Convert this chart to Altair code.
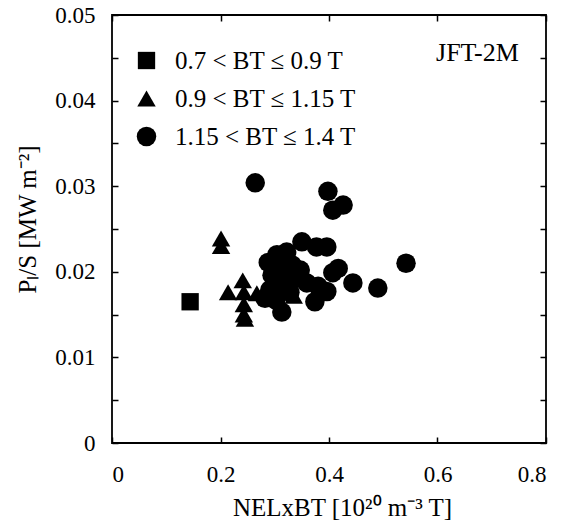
import altair as alt
import pandas as pd

# ---- data ----
categories = ["0.7 < BT ≤ 0.9 T", "0.9 < BT ≤ 1.15 T", "1.15 < BT ≤ 1.4 T"]
shapes = ["square", "triangle-up", "circle"]
sizes = [300, 380, 225]

sq_x = [0.144]
sq_y = [0.0165]

tri_x = [0.201, 0.201, 0.214, 0.241, 0.243, 0.243, 0.243, 0.245, 0.267, 0.335]
tri_y = [0.0239, 0.0230, 0.0176, 0.0190, 0.0176, 0.0162, 0.0150, 0.0145, 0.0175, 0.0172]

cir_x = [0.264, 0.398, 0.426, 0.407, 0.350, 0.377, 0.396, 0.322, 0.304,
         0.417, 0.407, 0.444, 0.490, 0.542, 0.374, 0.313, 0.359, 0.380,
         0.396, 0.288, 0.295, 0.291, 0.310, 0.315, 0.313, 0.332, 0.339,
         0.328, 0.347, 0.302, 0.282]
cir_y = [0.0304, 0.0294, 0.0278, 0.0272, 0.0235, 0.0229, 0.0229, 0.0223, 0.0220,
         0.0204, 0.0199, 0.0187, 0.0181, 0.0210, 0.0165, 0.0153, 0.0187, 0.0183,
         0.0177, 0.0211, 0.0196, 0.0179, 0.0211, 0.0199, 0.0183, 0.0208, 0.0193,
         0.0176, 0.0202, 0.0167, 0.0169]

x_ticks = [0, 0.2, 0.4, 0.6, 0.8]
y_ticks = [0, 0.005, 0.01, 0.015, 0.02, 0.025, 0.03, 0.035, 0.04, 0.045, 0.05]

note_text = ["JFT-2M"]
note_x = [0.75]
note_y = [0.0456]

rows = []
for cat, xs, ys in zip(categories, [sq_x, tri_x, cir_x], [sq_y, tri_y, cir_y]):
    for a, b in zip(xs, ys):
        rows.append({"x": a, "y": b, "cat": cat})
df = pd.DataFrame(rows)
note_df = pd.DataFrame({"x": note_x, "y": note_y, "t": note_text})

FONT = "Liberation Serif"
xscale = alt.Scale(domain=[0, 0.8], nice=False, zero=False)
yscale = alt.Scale(domain=[0, 0.05], nice=False, zero=False)

legend = alt.Legend(
    orient="none", legendX=22, legendY=33, title=None,
    labelFont=FONT, labelFontSize=25, labelColor="black", labelLimit=0,
    labelOffset=16, rowPadding=12, padding=0,
    symbolFillColor="black", symbolStrokeColor="black", symbolStrokeWidth=0,
    symbolOpacity=1,
)

points = alt.Chart(df).mark_point(filled=True, opacity=1, color="black", strokeWidth=0).encode(
    x=alt.X("x:Q", scale=xscale, axis=alt.Axis(
        orient="bottom", values=x_ticks, format=".1~f", offset=-6, tickSize=6,
        tickColor="black", tickWidth=1.5, domain=False, grid=False,
        labelPadding=20, labelFont=FONT, labelFontSize=23, labelColor="black",
        title="NELxBT [10²⁰ m⁻³ T]", titleFont=FONT, titleFontSize=25,
        titleFontWeight="normal", titleColor="black",
        titleX=230, titleY=78, titleBaseline="alphabetic", titleAlign="center")),
    y=alt.Y("y:Q", scale=yscale, axis=alt.Axis(
        orient="left", values=y_ticks, offset=-6, tickSize=6,
        tickColor="black", tickWidth=1.5, domain=False, grid=False,
        labelExpr="abs(round(datum.value*1000) % 10) == 0 ? format(datum.value, '.2~f') : ''",
        labelPadding=17, labelFont=FONT, labelFontSize=23, labelColor="black",
        title="Pₗ/S  [MW m⁻²]", titleFont=FONT, titleFontSize=25,
        titleFontWeight="normal", titleColor="black",
        titleX=-83, titleY=204, titleBaseline="alphabetic", titleAngle=270, titleAlign="center")),
    shape=alt.Shape("cat:N", scale=alt.Scale(domain=categories, range=shapes), legend=legend),
    size=alt.Size("cat:N", scale=alt.Scale(domain=categories, range=sizes), legend=legend),
)

mirror = alt.Chart(df).mark_point(opacity=0).encode(
    x=alt.X("x:Q", scale=xscale, axis=alt.Axis(
        orient="top", values=x_ticks, offset=-6, tickSize=6, tickColor="black",
        tickWidth=1.5, domain=False, grid=False, labels=False, title=None)),
    y=alt.Y("y:Q", scale=yscale, axis=alt.Axis(
        orient="right", values=y_ticks, offset=-6, tickSize=6, tickColor="black",
        tickWidth=1.5, domain=False, grid=False, labels=False, title=None)),
)

note = alt.Chart(note_df).mark_text(
    align="right", baseline="middle", font=FONT, fontSize=26, color="black"
).encode(
    x=alt.X("x:Q", scale=xscale, axis=None),
    y=alt.Y("y:Q", scale=yscale, axis=None),
    text="t:N",
)

chart = alt.layer(points, mirror, note).resolve_axis(
    x="independent", y="independent"
).properties(
    width=434, height=428,
    autosize=alt.AutoSizeParams(type="none"),
    padding={"left": 112, "top": 15, "right": 19, "bottom": 80},
    background="white",
).configure_view(stroke="black", strokeWidth=1.8)

chart.save("out.html", embed_options={"renderer": "svg", "actions": False})
